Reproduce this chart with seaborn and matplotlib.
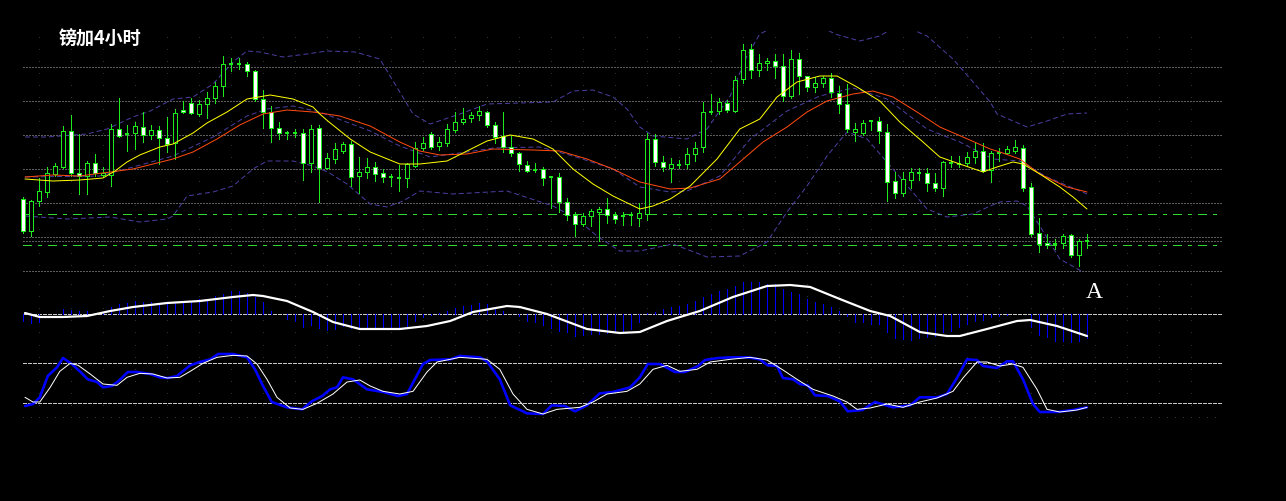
import numpy as np
import matplotlib
matplotlib.use('Agg')
import matplotlib.pyplot as plt
import seaborn as sns

# ---- candles (price units, one bar per 4h period) ----
opens = [100, 68, 98, 107, 125, 132, 168, 126, 123, 136,
         124, 124, 170, 165, 166, 172, 164, 169, 161, 156,
         189, 196, 185, 195, 201, 213, 235, 235, 235, 228,
         200, 187, 171, 166, 166, 166, 136, 171, 131, 140,
         148, 155, 123, 127, 132, 126, 122, 121, 121, 133,
         151, 165, 153, 156, 169, 177, 181, 184, 187, 174,
         163, 152, 146, 134, 129, 130, 122, 122, 97, 84,
         75, 83, 87, 90, 84, 83, 84, 81, 85, 160,
         137, 131, 134, 135, 145, 152, 187, 188, 196, 188,
         220, 250, 229, 236, 238, 233, 203, 240, 223, 212,
         216, 221, 206, 195, 167, 166, 178, 178, 167, 118,
         106, 119, 126, 126, 116, 111, 136, 135, 136, 142,
         148, 129, 146, 146, 148, 151, 112, 66, 56, 55,
         56, 64, 44, 58]
closes = [68, 98, 108, 126, 133, 168, 126, 123, 136, 126,
          126, 170, 163, 165, 173, 164, 169, 161, 155, 186,
          187, 186, 195, 201, 213, 235, 235, 235, 228, 200,
          187, 171, 166, 166, 166, 136, 170, 131, 141, 150,
          155, 122, 127, 132, 125, 122, 122, 121, 135, 151,
          156, 152, 157, 170, 177, 180, 184, 188, 174, 162,
          152, 146, 135, 128, 129, 121, 122, 97, 84, 75,
          83, 88, 90, 84, 80, 83, 84, 86, 160, 137,
          132, 135, 134, 145, 151, 187, 187, 197, 189, 219,
          249, 229, 236, 238, 233, 203, 240, 223, 212, 216,
          221, 207, 195, 170, 170, 176, 178, 168, 117, 106,
          120, 127, 126, 116, 111, 137, 136, 135, 142, 148,
          128, 146, 146, 150, 152, 111, 65, 55, 54, 55,
          63, 44, 58, 58]
highs = [102, 99, 121, 132, 136, 173, 184, 165, 138, 145,
         132, 175, 201, 174, 177, 187, 174, 173, 182, 190,
         198, 201, 199, 207, 217, 243, 241, 241, 237, 229,
         209, 193, 177, 168, 170, 170, 174, 174, 146, 156,
         157, 158, 142, 141, 137, 130, 125, 134, 136, 157,
         162, 167, 162, 175, 187, 191, 187, 193, 188, 177,
         187, 163, 147, 138, 136, 132, 123, 126, 101, 87,
         86, 90, 92, 101, 87, 87, 87, 96, 166, 165,
         143, 141, 139, 151, 157, 197, 205, 201, 199, 223,
         255, 255, 245, 241, 245, 245, 249, 246, 223, 222,
         223, 226, 213, 215, 176, 179, 179, 182, 175, 127,
         127, 131, 131, 131, 126, 138, 143, 143, 147, 156,
         156, 148, 151, 153, 159, 154, 116, 81, 65, 60,
         65, 65, 60, 65]
lows = [66, 63, 93, 102, 123, 131, 123, 105, 105, 123,
        123, 113, 162, 148, 150, 157, 160, 135, 147, 140,
        186, 185, 183, 181, 196, 203, 228, 230, 223, 198,
        171, 157, 160, 160, 162, 119, 127, 97, 130, 136,
        146, 113, 106, 121, 118, 117, 113, 108, 112, 132,
        149, 150, 149, 153, 167, 175, 177, 179, 172, 156,
        147, 143, 128, 127, 127, 114, 91, 87, 79, 63,
        73, 73, 58, 76, 76, 74, 74, 73, 79, 133,
        128, 117, 131, 131, 138, 147, 185, 185, 187, 187,
        216, 221, 223, 229, 221, 198, 201, 205, 208, 207,
        212, 202, 186, 167, 158, 164, 169, 156, 98, 101,
        103, 111, 119, 108, 108, 103, 132, 132, 133, 136,
        127, 117, 138, 145, 146, 108, 63, 47, 51, 50,
        51, 42, 33, 51]

# ---- moving averages and Bollinger bands (bar index / price) ----
ma_fast_x = [0.25, 3.75, 7.1, 10, 11.5, 13, 14.6, 17.1, 18.75, 21.25, 23, 25.5, 28, 30.9,
             33.75, 36.25, 37.1, 38.1, 40.9, 43.4, 47.1, 49.6, 53, 55.5, 58, 60.9, 63.75,
             66.25, 68.75, 71.25, 73.75, 77.1, 78.75, 80.9, 83.4, 86.75, 89.6, 92.1, 94.25,
             96.75, 99.6, 101.75, 104.25, 107.1, 109.6, 112.5, 114.6, 117.1, 120, 121.75,
             123.75, 125, 127.1, 129.6, 131.25, 133]
ma_fast_y = [120, 118, 119, 121, 128, 137, 144, 152, 155, 166, 176, 187, 200, 204,
             200, 192, 185, 178, 160, 147, 135, 135, 138, 148, 158, 164, 160,
             150, 130, 115, 103, 90, 93, 100, 113, 140, 170, 180, 202,
             217, 223, 223, 212, 198, 177, 157, 142, 135, 127, 132,
             137, 135, 125, 112, 102, 90]
ma_slow_x = [0.25, 3.75, 7.1, 10.9, 13.75, 16.25, 18.75, 21.25, 24.25, 27.1, 30, 33, 36.25,
             39.6, 43.4, 47.1, 49.6, 52.1, 55.5, 58.75, 63.75, 67.1, 70.5, 73.75, 77.1, 80.9,
             83.4, 87.1, 89.6, 92.5, 95.5, 98, 100.5, 103.75, 106.25, 108.75, 111.75, 114.6,
             117.5, 120.9, 122.1, 124.6, 127.1, 130.5, 133]
ma_slow_y = [122, 124, 123, 127, 130, 135, 140, 147, 160, 174, 185, 189, 187,
             183, 173, 157, 148, 144, 145, 150, 149, 148, 140, 130, 117, 110,
             111, 120, 137, 157, 172, 187, 198, 205, 208, 202, 187, 172,
             162, 150, 147, 140, 125, 112, 107]
bb_up_x = [0.25, 3, 8, 10.5, 13.75, 15.9, 18.75, 21.25, 23.75, 26.25, 28, 29.6, 32.5, 35.5,
           38, 41.5, 44.6, 47.1, 48.75, 50.9, 54.6, 58, 62.1, 66.25, 68.75, 71.25, 73.75,
           75.5, 77.1, 78.75, 83, 85.5, 88.4, 90.5, 92.1, 94.6, 98.4, 101.5, 104.6, 107.1,
           109.6, 113, 116.25, 118.75, 120.9, 121.75, 123.75, 125.5, 128, 130.5, 133]
bb_up_y = [162, 162, 165, 170, 182, 188, 200, 202, 215, 237, 248, 247, 242, 245,
           248, 247, 240, 207, 185, 175, 185, 195, 196, 197, 208, 209, 202,
           190, 172, 163, 160, 170, 203, 243, 265, 275, 278, 265, 258, 263,
           275, 263, 240, 217, 197, 185, 178, 172, 178, 185, 186]
bb_mid_x = [0.25, 9.6, 13.75, 18.75, 23.75, 28, 30.5, 33.75, 37.1, 43.4, 47.1, 50.9, 55.5,
            58.75, 64.6, 68.75, 73.75, 77.1, 80.9, 83, 87.1, 90.9, 95.5, 99.6, 103.75, 108,
            113, 117.1, 121.25, 124.6, 128, 133]
bb_mid_y = [122, 123, 132, 143, 162, 183, 190, 193, 187, 168, 153, 142, 147,
            151, 152, 143, 130, 112, 107, 108, 123, 160, 188, 203, 211, 200,
            170, 157, 140, 138, 122, 105]
bb_low_x = [0.25, 5.5, 10.9, 14.6, 18, 18.75, 20.5, 23.75, 26.25, 28.75, 30.5, 33.75, 36.25,
            38.1, 40.5, 43.4, 45.5, 47.5, 49.6, 53.75, 60.5, 66.25, 69.25, 71.75, 74.6, 77.1,
            81.25, 85.5, 89.6, 93, 95.5, 98, 100.5, 103, 105.5, 108.75, 113, 115.5, 118.75,
            120.9, 122.1, 124.25, 125.5, 127.1, 129.6, 132.5]
bb_low_y = [83, 80, 82, 77, 80, 83, 103, 107, 113, 130, 138, 138, 133,
            127, 115, 95, 92, 98, 108, 105, 108, 93, 80, 63, 48, 48,
            55, 42, 43, 57, 87, 113, 143, 167, 160, 130, 90, 82, 85,
            93, 97, 98, 93, 73, 40, 27]
grid_levels = [232, 198, 164, 130, 96, 62, 58, 28]
green_levels = [85, 54]

# ---- MACD ----
macd_x = [0.25, 2.1, 5, 8, 10.9, 13.75, 18, 22.1, 26.25, 28.75, 30, 33, 36.25, 38.75, 42.1,
          47.1, 50.5, 53.4, 56.25, 60.5, 62.1, 65.5, 70.5, 74.6, 77.1, 80.5, 84.6, 88.75, 93,
          95.9, 98.4, 102.1, 105.9, 108.4, 112.1, 115.5, 117.1, 120.5, 124.25, 125.9, 129.25, 133]
macd_y = [1, -3, -3, -2, 3, 7, 11, 13, 17, 19, 18, 13, 2, -8, -15,
          -15, -12, -7, 2, 8, 7, 0, -15, -19, -18, -7, 3, 17, 28,
          29, 27, 15, 3, -2, -18, -22, -22, -15, -7, -6, -12, -22]
macd_hist = [-7, -9, -8, 0, 0, 5, 4, 3, 3, 1,
             1, 7, 10, 11, 13, 12, 12, 10, 10, 12,
             13, 13, 15, 15, 18, 20, 23, 23, 21, 17,
             12, 3, 0, -5, -7, -13, -11, -14, -16, -15,
             -12, -14, -15, -13, -15, -15, -14, -15, -12, -7,
             -3, -1, 1, 3, 6, 8, 9, 11, 10, 7,
             3, 0, -2, -7, -8, -11, -14, -17, -18, -22,
             -21, -20, -20, -19, -18, -17, -15, -8, 1, 2,
             5, 7, 8, 10, 13, 17, 20, 23, 25, 28,
             32, 32, 32, 30, 30, 25, 22, 20, 15, 12,
             10, 7, 3, -2, -8, -8, -10, -10, -18, -24,
             -25, -26, -24, -23, -22, -18, -17, -13, -10, -7,
             -6, -3, -2, -1, 0, 0, -13, -21, -23, -27,
             -27, -28, -27, -24]

# ---- stochastic ----
stoch_k_x = [0.25, 1.25, 2.1, 3.1, 4.25, 5, 6.1, 7.1, 8.1, 9.25,
             10, 11.1, 11.9, 13.1, 14.25, 15.9, 17.1, 18.1, 19.25, 20.9,
             22.1, 23.4, 24.4, 26.25, 28, 29, 30, 31.1, 33, 34.9,
             36.1, 37.4, 38.4, 39.25, 40, 41.25, 43, 45, 46.9, 48,
             50, 50.9, 53.4, 54.6, 57.1, 58, 59.6, 60.9, 63, 65,
             66.1, 67.75, 69, 70.5, 72.1, 73.75, 75.9, 77.1, 78.1, 79.6,
             81.5, 82.75, 84.4, 85.25, 86.9, 88.6, 90.6, 92.1, 93.1, 94.25,
             95, 96.25, 97.1, 98.1, 99, 100.6, 102.1, 103.1, 104.9, 106.5,
             108.75, 110.9, 112.1, 114.25, 115.5, 116.75, 118, 119.25, 120, 121.75,
             123, 123.75, 125, 126.25, 127.1, 129.25, 131.25, 133]
stoch_k_y = [16, 19, 29, 61, 74, 88, 79, 68, 56, 52,
             44, 46, 53, 67, 67, 64, 59, 58, 61, 77,
             82, 86, 94, 94, 89, 71, 46, 22, 14, 11,
             23, 31, 41, 44, 59, 56, 41, 37, 31, 34,
             79, 85, 86, 91, 89, 83, 56, 17, 5, 4,
             17, 16, 8, 17, 35, 37, 44, 59, 79, 79,
             67, 67, 76, 85, 88, 89, 89, 86, 77, 76,
             58, 56, 49, 47, 32, 31, 23, 8, 10, 22,
             14, 17, 29, 29, 34, 58, 86, 85, 76, 73,
             83, 83, 56, 19, 7, 7, 10, 14]
stoch_d_x = [0.25, 1.25, 2.1, 3.4, 4.6, 5.9, 6.9, 8.4, 10, 11.75,
             13, 14.6, 16.25, 18, 19.6, 20.9, 22.5, 24.25, 26.25, 28,
             29.25, 30.5, 31.75, 33.4, 35, 36.75, 38.75, 40.5, 42.1, 43.4,
             45, 47.1, 48.75, 50.5, 51.75, 53.4, 54.6, 58, 59.6, 61.25,
             63, 65, 66.75, 69.6, 71.25, 73, 75.5, 77.1, 78.75, 80.5,
             82.1, 84.25, 85.9, 88.4, 90.9, 93, 95, 96.75, 98.75, 101.25,
             103, 104.25, 105.9, 108, 110, 112.1, 114.25, 116.25, 117.5, 119.25,
             120.5, 122.1, 123.75, 125, 126.75, 128, 129.6, 131.75, 133]
stoch_d_y = [29, 22, 22, 44, 68, 80, 77, 64, 49, 47,
             59, 65, 64, 58, 59, 68, 80, 89, 92, 91,
             79, 56, 29, 13, 11, 20, 34, 52, 55, 46,
             38, 34, 38, 67, 82, 86, 89, 86, 71, 34,
             11, 4, 11, 14, 22, 34, 38, 49, 71, 77,
             68, 71, 82, 86, 89, 85, 70, 56, 41, 31,
             22, 11, 13, 19, 14, 22, 28, 38, 58, 82,
             82, 76, 79, 74, 41, 11, 7, 10, 14]
stoch_levels = [80, 20]

sns.set_style('dark', {'axes.facecolor': 'black', 'figure.facecolor': 'black'})
plt.rcParams['font.family'] = ['Noto Sans CJK SC', 'DejaVu Sans']
plt.rcParams['lines.scale_dashes'] = False

PX = 0.72  # one pixel in points at 100 dpi
GREEN = '#1ee81e'
BB_COLOR = '#4a3fa0'
W, H = 1286.0, 502.0
XLIM = (-23 / 8, (W - 23) / 8)
GRID_END = 150

fig = plt.figure(figsize=(W / 100, H / 100), dpi=100, facecolor='black')


def panel(top, bottom, ylim):
    ax = fig.add_axes([0, 1 - bottom / H, 1, (bottom - top) / H])
    ax.set_facecolor('black')
    ax.set_axis_off()
    ax.set_xlim(XLIM)
    ax.set_ylim(ylim)
    return ax


def vgrid(ax, lo, hi):
    ax.vlines(np.arange(2, GRID_END, 4), lo, hi, colors='#22382a', lw=PX,
              linestyles=[(0, (PX, 11 * PX))], zorder=0, antialiased=False)


# ---------- main price panel ----------
ax = panel(32, 278, (22, 268))
vgrid(ax, 22, 268)
ax.hlines(grid_levels, 0, GRID_END, colors='#5c5c5c', lw=PX,
          linestyles=[(0, (2 * PX, 2 * PX))], zorder=1, antialiased=False)
ax.hlines(green_levels, 0, GRID_END, colors='#2fd82f', lw=1.2 * PX,
          linestyles=[(0, (9 * PX, 6 * PX, 3 * PX, 6 * PX))], zorder=1, antialiased=False)

bb_ls = (0, (5 * PX, 3 * PX))
sns.lineplot(x=bb_up_x, y=bb_up_y, ax=ax, color=BB_COLOR, lw=PX, linestyle=bb_ls, zorder=2)
sns.lineplot(x=bb_mid_x, y=bb_mid_y, ax=ax, color=BB_COLOR, lw=PX, linestyle=bb_ls, zorder=2)
sns.lineplot(x=bb_low_x, y=bb_low_y, ax=ax, color=BB_COLOR, lw=PX, linestyle=bb_ls, zorder=2)

o, h, l, c = map(np.array, (opens, highs, lows, closes))
idx = np.arange(len(o))
up, down, flat = c > o, c < o, c == o
ax.vlines(idx, l, h, color=GREEN, lw=PX, zorder=3, antialiased=False)
ax.bar(idx[up], (c - o)[up], bottom=o[up], width=0.5, facecolor='black',
       edgecolor=GREEN, lw=PX, zorder=4, antialiased=False)
ax.bar(idx[down], (o - c)[down], bottom=c[down], width=0.5, facecolor='white',
       edgecolor=GREEN, lw=PX, zorder=4, antialiased=False)
ax.hlines(o[flat], idx[flat] - 0.3, idx[flat] + 0.3, color=GREEN, lw=2 * PX, zorder=4,
          antialiased=False)

sns.lineplot(x=ma_slow_x, y=ma_slow_y, ax=ax, color='#ff4a10', lw=PX, zorder=5)
sns.lineplot(x=ma_fast_x, y=ma_fast_y, ax=ax, color='#ffff00', lw=PX, zorder=5)
ax.set_xlim(XLIM)
ax.set_ylim(22, 268)

# ---------- MACD panel ----------
ax2 = panel(280, 345, (-30, 35))
vgrid(ax2, -30, 35)
ax2.hlines([0], 0, GRID_END, colors='#c8c8c8', lw=PX,
           linestyles=[(0, (4 * PX, 2 * PX))], zorder=1, antialiased=False)
ax2.vlines(idx, 0, macd_hist, color='#0000ff', lw=PX, zorder=2, antialiased=False)
sns.lineplot(x=macd_x, y=macd_y, ax=ax2, color='white', lw=2.2 * PX, zorder=3)
ax2.set_xlim(XLIM)
ax2.set_ylim(-30, 35)

# ---------- stochastic panel ----------
ax3 = panel(345, 430, (-18.5, 109))
vgrid(ax3, -18.5, 109)
ax3.hlines(stoch_levels, 0, GRID_END, colors='#c8c8c8', lw=PX,
           linestyles=[(0, (4 * PX, 2 * PX))], zorder=1, antialiased=False)
ax3.hlines([0], 0, GRID_END, colors='#3a3a3a', lw=PX,
           linestyles=[(0, (PX, 7 * PX))], zorder=1, antialiased=False)
sns.lineplot(x=stoch_k_x, y=stoch_k_y, ax=ax3, color='#0000ff', lw=2.6 * PX, zorder=2)
sns.lineplot(x=stoch_d_x, y=stoch_d_y, ax=ax3, color='white', lw=PX, zorder=3)
ax3.set_xlim(XLIM)
ax3.set_ylim(-18.5, 109)

fig.text(59 / W, 1 - 39 / H, '镑加4小时', color='white', fontsize=13,
         fontweight='bold', ha='left', va='center')
fig.text(1094 / W, 1 - 292 / H, 'A', color='white', fontsize=17,
         family='Liberation Serif', ha='center', va='center')

fig.savefig('out.png', dpi=100, facecolor='black')
